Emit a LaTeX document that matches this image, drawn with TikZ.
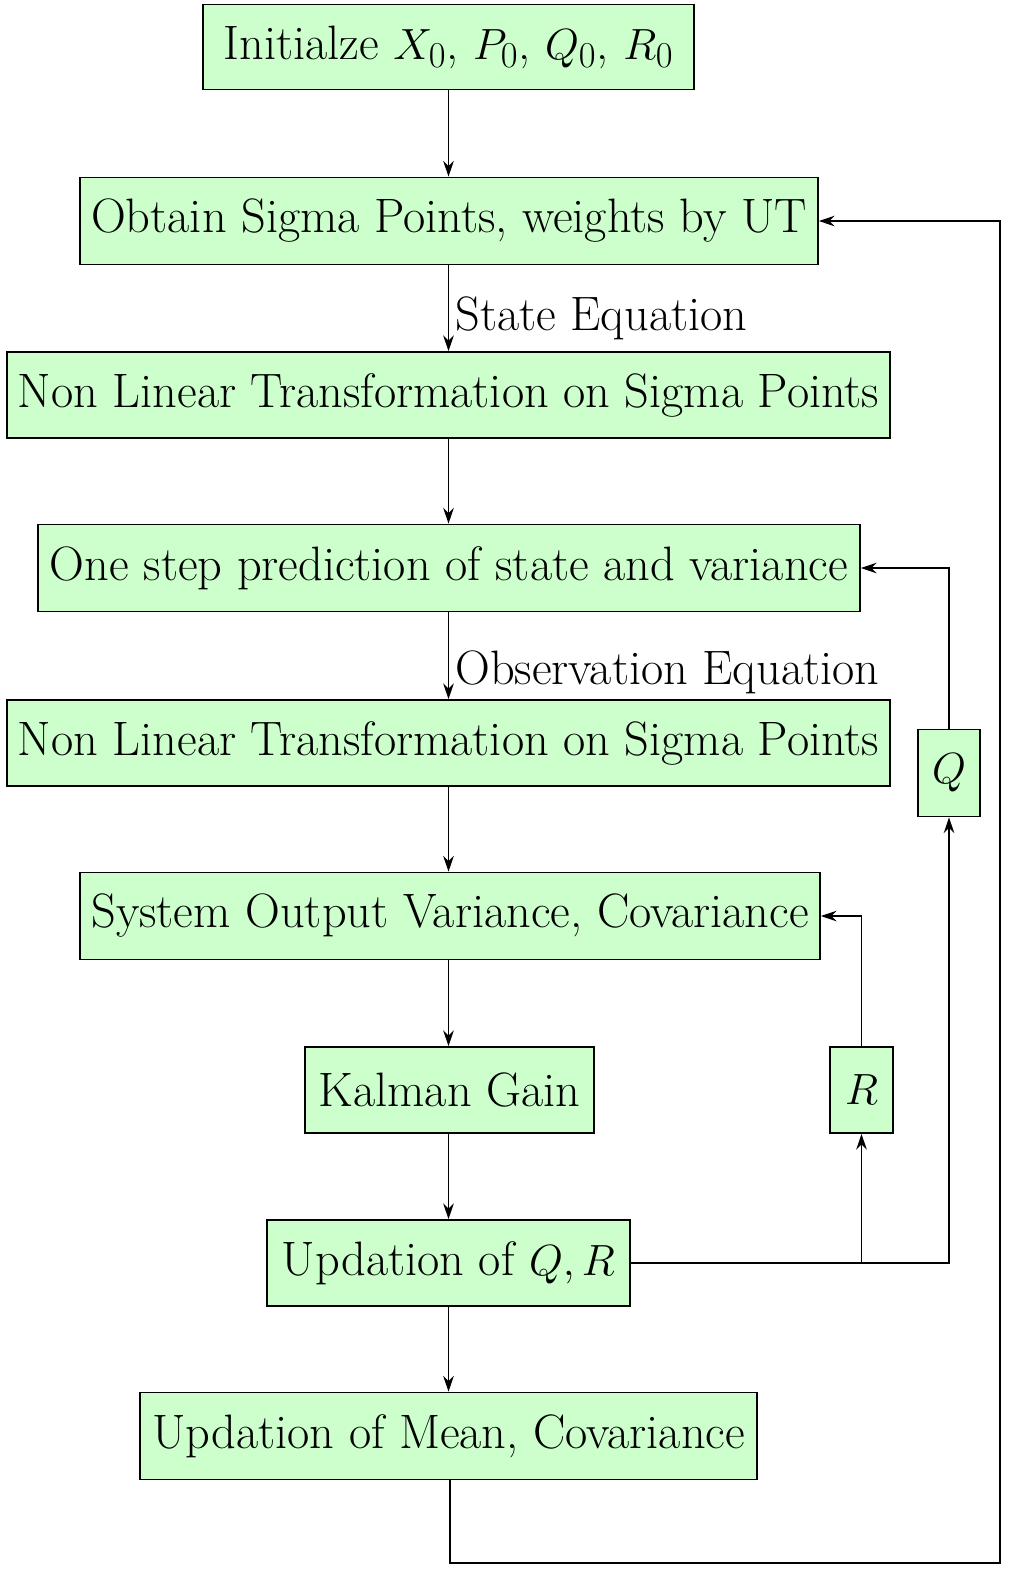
\documentclass[tikz,border=0pt]{standalone}
\usetikzlibrary{arrows.meta}
\begin{document}
\begin{tikzpicture}[x=0.02cm,y=-0.02cm,
  box/.style={draw,fill={rgb,255:red,204;green,255;blue,204},line width=0.9pt,inner sep=0pt,font=\fontsize{27.5}{32}\selectfont},
  lbl/.style={font=\fontsize{27.5}{32}\selectfont,anchor=west,inner sep=0pt},
  ar/.style={-{Stealth[length=9pt,width=6pt]},line width=0.9pt}]
\useasboundingbox (0,0) rectangle (1020,1590);
\node[box,minimum width=491*0.02cm,minimum height=85*0.02cm] (b1) at (448.5,47) {Initialze $X_0$, $P_0$, $Q_0$, $R_0$};
\node[box,minimum width=738*0.02cm,minimum height=87*0.02cm] (b2) at (449,221) {Obtain Sigma Points, weights by UT};
\node[box,minimum width=883*0.02cm,minimum height=86*0.02cm] (b3) at (448.5,395) {Non Linear Transformation on Sigma Points};
\node[box,minimum width=822*0.02cm,minimum height=87*0.02cm] (b4) at (449,568) {One step prediction of state and variance};
\node[box,minimum width=883*0.02cm,minimum height=86*0.02cm] (b5) at (448.5,743) {Non Linear Transformation on Sigma Points};
\node[box,minimum width=740*0.02cm,minimum height=87*0.02cm] (b6) at (450,916) {System Output Variance, Covariance};
\node[box,minimum width=289*0.02cm,minimum height=86*0.02cm] (b7) at (449.5,1090) {Kalman Gain};
\node[box,minimum width=363*0.02cm,minimum height=86*0.02cm] (b8) at (448.5,1263) {Updation of $Q,R$};
\node[box,minimum width=617*0.02cm,minimum height=87*0.02cm] (b9) at (448.5,1436) {Updation of Mean, Covariance};
\node[box,minimum width=62*0.02cm,minimum height=87*0.02cm] (q) at (949,773) {$Q$};
\node[box,minimum width=63*0.02cm,minimum height=86*0.02cm] (r) at (861.5,1090) {$R$};
\coordinate (br) at (861.5,1263);
\coordinate (c1) at (450,1563);
\coordinate (c2) at (1000,1563);
\coordinate (c3) at (1000,221);
\draw[ar] (b1.south) -- (b2.north -| b1.south);
\draw[ar] (b2.south -| b1.south) -- (b3.north -| b1.south);
\draw[ar] (b3.south -| b1.south) -- (b4.north -| b1.south);
\draw[ar] (b4.south -| b1.south) -- (b5.north -| b1.south);
\draw[ar] (b5.south -| b1.south) -- (b6.north -| b1.south);
\draw[ar] (b6.south -| b1.south) -- (b7.north -| b1.south);
\draw[ar] (b7.south -| b1.south) -- (b8.north -| b1.south);
\draw[ar] (b8.south -| b1.south) -- (b9.north -| b1.south);
\draw[ar] (b9.south -| c1) -- (c1) -- (c2) -- (c3) -- (b2.east);
\draw[ar] (b8.east) -- (b8.east -| q.south) -- (q.south);
\draw[ar] (q.north) |- (b4.east);
\draw[ar] (br) -- (r.south);
\draw[ar] (r.north) |- (b6.east);
\node[lbl] (l1) at (455,318) {State Equation};
\node[lbl] (l2) at (455,672) {Observation Equation};
\end{tikzpicture}
\end{document}
